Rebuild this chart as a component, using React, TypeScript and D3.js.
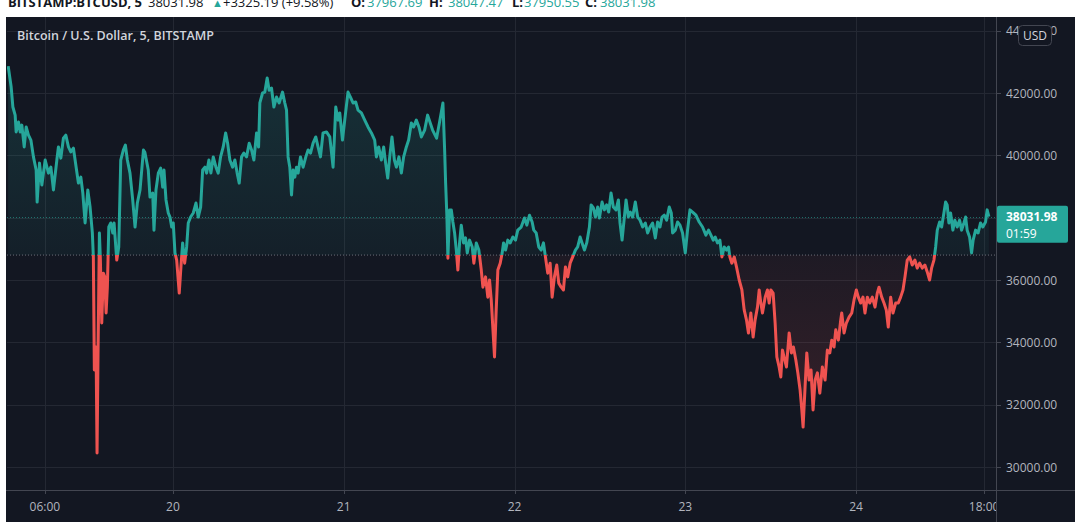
import React from 'react';
import * as d3 from 'd3';

// ---- data (hours since 2021-05-19 00:00, close price) ----
const priceSeries: [number, number][] = [
  [0.84,42860],[1.26,42190],[1.50,41550],[1.82,41290],[1.96,40750],[2.29,41070],[2.53,40750],[2.76,40970],[3.09,40270],[3.37,40910],[3.69,40650],[4.03,40490],[4.39,39950],[4.77,39530],[4.91,38500],[5.24,39750],[5.57,39050],[6.04,39850],[6.50,39430],[6.84,39620],[7.20,38890],[7.68,39850],[7.90,40270],[8.24,39910],[8.60,40550],[8.94,40650],[9.31,40270],[9.64,40110],[10.01,40230],[10.39,39620],[10.71,39110],[11.05,39300],[11.33,38790],[11.65,37830],[12.03,38890],[12.35,38340],[12.67,37510],[12.81,36740],[12.95,33110],[13.19,33850],[13.33,30450],[13.47,33660],[13.66,37510],[13.80,36640],[13.99,34620],[14.22,36220],[14.41,36100],[14.60,34940],[14.78,35770],[14.98,37700],[15.26,37830],[15.54,37510],[15.72,37830],[16.10,36640],[16.38,37060],[16.66,39850],[17.02,40170],[17.31,40330],[17.59,39850],[17.96,39430],[18.34,38570],[18.67,37700],[18.99,38470],[19.37,38890],[19.85,40170],[20.05,40100],[20.53,39530],[20.77,38660],[21.15,38790],[21.33,37600],[21.61,38890],[21.94,39430],[22.27,39590],[22.55,38980],[22.74,39530],[23.02,38570],[23.34,38150],[23.58,38020],[23.82,37700],[24.04,37830],[24.28,36870],[24.52,36640],[24.88,35580],[25.12,36420],[25.36,37190],[25.64,36540],[25.92,37060],[26.15,37830],[26.48,38020],[26.85,38150],[27.23,38470],[27.55,38020],[27.89,38340],[28.17,39530],[28.49,39620],[28.73,39430],[29.05,39850],[29.33,39430],[29.66,39950],[30.04,39620],[30.36,39430],[30.69,39950],[31.06,40270],[31.40,40720],[31.68,40390],[32.00,39850],[32.38,39620],[32.70,39850],[33.02,39430],[33.31,39110],[33.64,39950],[33.96,40070],[34.34,39950],[34.71,40390],[35.05,40170],[35.37,39850],[35.75,40720],[36.03,40270],[36.21,41680],[36.59,42000],[36.91,42030],[37.24,42480],[37.52,42090],[37.85,42160],[38.18,41550],[38.55,41870],[38.92,41680],[39.40,42030],[39.72,41680],[39.96,41450],[40.18,39950],[40.42,39620],[40.66,38730],[40.88,39530],[41.12,39300],[41.36,39620],[41.59,39430],[41.92,39950],[42.29,39620],[42.67,39950],[42.99,40170],[43.33,40070],[43.69,40390],[44.07,40590],[44.39,40270],[44.73,39950],[45.09,40720],[45.57,40750],[46.04,40590],[46.50,39620],[46.88,41550],[47.20,41130],[47.44,41360],[47.82,40490],[48.14,41130],[48.60,42030],[48.94,41870],[49.31,41680],[49.68,41710],[50.01,41450],[50.48,41360],[50.95,41130],[51.41,40910],[51.89,40720],[52.35,40490],[52.59,39950],[52.91,40270],[53.29,39850],[53.61,40270],[53.89,39750],[54.18,39270],[54.46,39950],[54.78,40590],[55.12,39850],[55.40,39620],[55.76,39950],[56.10,39430],[56.42,39950],[56.80,40270],[57.12,40490],[57.50,41040],[57.82,40910],[58.20,41130],[58.57,40910],[58.91,40590],[59.37,40810],[59.79,41290],[60.49,40810],[61.05,40550],[61.47,41070],[61.94,41680],[62.18,40170],[62.32,39110],[62.50,38020],[62.64,36700],[62.88,38250],[63.12,38250],[63.34,37860],[63.58,37510],[63.82,36960],[64.04,36320],[64.28,37190],[64.52,37760],[64.84,37190],[65.12,37350],[65.36,36870],[65.68,37280],[66.06,37060],[66.29,36540],[66.63,37190],[66.99,36960],[67.33,36320],[67.56,35770],[67.93,36100],[68.25,35450],[68.49,36000],[68.73,35360],[68.95,34490],[69.19,33530],[69.43,35040],[69.66,36320],[69.99,36540],[70.27,36870],[70.46,37190],[70.74,36960],[71.06,37280],[71.40,37190],[71.76,37380],[72.14,37280],[72.46,37600],[72.94,37700],[73.40,37990],[73.73,37760],[74.11,38080],[74.48,37860],[74.71,37600],[75.05,37510],[75.41,37060],[75.75,36960],[76.07,37190],[76.35,36740],[76.67,36220],[77.01,36540],[77.29,35450],[77.61,36100],[77.94,36480],[78.22,35900],[78.56,35770],[78.88,35680],[79.16,36420],[79.48,36100],[79.82,36540],[80.18,36740],[80.56,36960],[80.88,37060],[81.22,37380],[81.50,37190],[81.83,36960],[82.15,37190],[82.53,37700],[82.77,38410],[83.09,38310],[83.37,38020],[83.69,38340],[83.93,37990],[84.31,38500],[84.63,38250],[84.95,38410],[85.24,38180],[85.57,38790],[85.89,38340],[86.27,38250],[86.60,38570],[86.83,37830],[87.12,37280],[87.44,38020],[87.68,38570],[88.00,38020],[88.28,38180],[88.60,38020],[88.98,38500],[89.31,38020],[89.64,37920],[90.01,37700],[90.39,37830],[90.71,37510],[91.05,37700],[91.41,37830],[91.79,37350],[92.11,37860],[92.45,37700],[92.73,38020],[93.05,38080],[93.38,37920],[93.75,38340],[94.04,38150],[94.22,37510],[94.60,37600],[94.92,37860],[95.26,37760],[95.62,37510],[96.00,36870],[96.32,37600],[96.66,38250],[97.03,38180],[97.50,38080],[97.96,37860],[98.43,37700],[98.90,37440],[99.27,37600],[99.61,37440],[99.93,37280],[100.21,37380],[100.53,37190],[100.87,37280],[101.15,36740],[101.47,37060],[101.80,36960],[102.08,37060],[102.27,36740],[102.55,36540],[102.88,36740],[103.20,36420],[103.58,36000],[103.96,35680],[104.28,35040],[104.60,34720],[104.88,34300],[105.22,34940],[105.54,34170],[105.82,34720],[106.15,35130],[106.39,35680],[106.62,35260],[106.85,34940],[107.23,35450],[107.55,35680],[107.79,35260],[108.03,35680],[108.35,35580],[108.63,34620],[108.87,33530],[109.19,33210],[109.43,32890],[109.66,33750],[109.89,33530],[110.22,33210],[110.60,34300],[110.92,33660],[111.20,33850],[111.54,33430],[111.82,33020],[112.14,32470],[112.38,31830],[112.56,31280],[112.84,32570],[113.08,33660],[113.40,32790],[113.68,33110],[113.96,31830],[114.25,32790],[114.57,33020],[114.91,32370],[115.27,33210],[115.65,32790],[115.97,33750],[116.31,33660],[116.59,34070],[116.91,33850],[117.15,34400],[117.52,34070],[117.85,34720],[117.99,34940],[118.32,34300],[118.64,34620],[119.02,34810],[119.40,34940],[119.72,35360],[120.04,35680],[120.32,35450],[120.66,35260],[120.98,35450],[121.26,34940],[121.59,35450],[121.92,35260],[122.29,35450],[122.67,35130],[122.99,35580],[123.23,35770],[123.61,35450],[123.93,35260],[124.25,35040],[124.53,34490],[124.87,35450],[125.19,34940],[125.57,35260],[125.94,35260],[126.27,35450],[126.60,35680],[126.88,36100],[127.20,36640],[127.54,36740],[127.90,36480],[128.28,36640],[128.60,36380],[128.94,36540],[129.31,36380],[129.68,36480],[130.01,36260],[130.34,36000],[130.62,36380],[130.95,36640],[131.19,37060],[131.42,37600],[131.75,37860],[132.03,37700],[132.35,38150],[132.59,38500],[132.81,38410],[133.05,37830],[133.29,38150],[133.61,37600],[133.89,37920],[134.22,37700],[134.55,37920],[134.84,37600],[135.16,37830],[135.40,38020],[135.62,37600],[135.96,37380],[136.24,36870],[136.46,37280],[136.80,37600],[137.16,37510],[137.50,37830],[137.82,37700],[138.20,37860],[138.43,38250],[138.67,38031.98]
];

const baselinePrice = 36800;
const lastPrice = 38031.98;
const countdownLabel = '01:59';
const priceTicks = [30000, 32000, 34000, 36000, 38000, 40000, 42000, 44000];
const timeTickHours = [6, 24, 48, 72, 96, 120, 138];
const timeTickLabels = ['06:00', '20', '21', '22', '23', '24', '18:00'];
const chartTitle = 'Bitcoin / U.S. Dollar, 5, BITSTAMP';
const currencyLabel = 'USD';
const headerSymbol = 'BITSTAMP:BTCUSD, 5';
const headerPrice = '38031.98';
const headerChange = '+3325.19 (+9.58%)';
const ohlcKeys = ['O:', 'H:', 'L:', 'C:'];
const ohlcValues = ['37967.69', '38047.47', '37950.55', '38031.98'];

const startDate = new Date(2021, 4, 19, 0, 0, 0);

const UP = '#26a69a';
const DOWN = '#ef5350';
const BG = '#131722';
const GRID = '#242833';
const AXIS_TEXT = '#b2b5be';
const FONT = '"Open Sans", "Noto Sans", sans-serif';

export default function App() {
  const toDate = (h: number) => new Date(startDate.getTime() + h * 3600000);
  const plot = { left: 7, right: 996, top: 17, bottom: 490 };
  const panel = { left: 6, right: 1075, top: 17, bottom: 522 };

  const x = d3.scaleTime().domain([toDate(6), toDate(138)]).range([44.9, 984.1]);
  const y = d3.scaleLinear().domain([30000, 42000]).range([467, 93]);
  const yBase = y(baselinePrice);
  const yLast = y(lastPrice);

  const line = d3.line<[number, number]>()
    .x(d => x(toDate(d[0])))
    .y(d => y(d[1]));
  const area = d3.area<[number, number]>()
    .x(d => x(toDate(d[0])))
    .y0(yBase)
    .y1(d => y(d[1]));
  const linePath = line(priceSeries) || '';
  const areaPath = area(priceSeries) || '';

  const ohlcX = [[351, 367], [429, 448], [512, 524], [585, 600]];

  return (
    <svg width={1080} height={531} style={{ position: 'absolute', left: 0, top: 0, background: '#ffffff' }}
      fontFamily={FONT}>
      <defs>
        <clipPath id="plotClip">
          <rect x={plot.left} y={plot.top} width={plot.right - plot.left} height={plot.bottom - plot.top} />
        </clipPath>
        <clipPath id="aboveClip">
          <rect x={plot.left} y={plot.top} width={plot.right - plot.left} height={yBase - plot.top} />
        </clipPath>
        <clipPath id="belowClip">
          <rect x={plot.left} y={yBase} width={plot.right - plot.left} height={plot.bottom - yBase} />
        </clipPath>
        <clipPath id="timeAxisClip">
          <rect x={panel.left} y={plot.bottom} width={plot.right - panel.left} height={panel.bottom - plot.bottom} />
        </clipPath>
        <linearGradient id="gUp" gradientUnits="userSpaceOnUse" x1={0} y1={plot.top} x2={0} y2={yBase}>
          <stop offset="0%" stopColor={UP} stopOpacity={0.22} />
          <stop offset="100%" stopColor={UP} stopOpacity={0.06} />
        </linearGradient>
        <linearGradient id="gDown" gradientUnits="userSpaceOnUse" x1={0} y1={yBase} x2={0} y2={plot.bottom}>
          <stop offset="0%" stopColor={DOWN} stopOpacity={0.05} />
          <stop offset="100%" stopColor={DOWN} stopOpacity={0.2} />
        </linearGradient>
      </defs>

      {/* header */}
      <g fontSize={13} dominantBaseline="alphabetic">
        <text x={8} y={7} fontWeight={700} fill="#131722">{headerSymbol}</text>
        <text x={148} y={7} fill="#131722">{headerPrice}</text>
        <text x={212} y={7} fill={UP} fontSize={11}>▲</text>
        <text x={223} y={7} fill="#131722">{headerChange}</text>
        {ohlcKeys.map((k, i) => (
          <g key={k}>
            <text x={ohlcX[i][0]} y={7} fontWeight={700} fill="#131722">{k}</text>
            <text x={ohlcX[i][1]} y={7} fill={UP}>{ohlcValues[i]}</text>
          </g>
        ))}
      </g>

      {/* panel */}
      <rect x={panel.left} y={panel.top} width={panel.right - panel.left} height={panel.bottom - panel.top} fill={BG} />

      {/* grid */}
      <g stroke={GRID} strokeWidth={1}>
        {priceTicks.map(p => (
          <line key={p} x1={plot.left} x2={plot.right} y1={Math.round(y(p)) + 0.5} y2={Math.round(y(p)) + 0.5} />
        ))}
        {timeTickHours.map(h => (
          <line key={h} x1={Math.round(x(toDate(h))) + 0.5} x2={Math.round(x(toDate(h))) + 0.5} y1={plot.top} y2={plot.bottom} />
        ))}
      </g>

      {/* baseline area + line */}
      <g clipPath="url(#plotClip)">
        <g clipPath="url(#aboveClip)">
          <path d={areaPath} fill="url(#gUp)" />
        </g>
        <g clipPath="url(#belowClip)">
          <path d={areaPath} fill="url(#gDown)" />
        </g>
        <line x1={plot.left} x2={plot.right} y1={yBase} y2={yBase} stroke="#6a6d78" strokeWidth={1} strokeDasharray="1 2" />
        <line x1={plot.left} x2={plot.right} y1={Math.round(yLast) + 0.5} y2={Math.round(yLast) + 0.5} stroke={UP} strokeOpacity={0.6} strokeWidth={1} strokeDasharray="1 2" />
        <g clipPath="url(#aboveClip)">
          <path d={linePath} fill="none" stroke={UP} strokeWidth={3} strokeLinejoin="round" />
        </g>
        <g clipPath="url(#belowClip)">
          <path d={linePath} fill="none" stroke={DOWN} strokeWidth={3} strokeLinejoin="round" />
        </g>
      </g>

      {/* axis borders */}
      <line x1={plot.right + 0.5} x2={plot.right + 0.5} y1={panel.top} y2={panel.bottom} stroke="#434651" />
      <line x1={panel.left} x2={panel.right} y1={plot.bottom + 0.5} y2={plot.bottom + 0.5} stroke="#434651" />

      {/* title */}
      <text x={17} y={40} fontSize={12.5} fontWeight={600} fill="#d1d4dc">{chartTitle}</text>

      {/* price axis */}
      <g fontSize={12} fill={AXIS_TEXT}>
        {priceTicks.map(p => (
          <g key={p}>
            <line x1={plot.right} x2={plot.right + 5} y1={Math.round(y(p)) + 0.5} y2={Math.round(y(p)) + 0.5} stroke="#434651" />
            <text x={1006} y={y(p)} dominantBaseline="central">{d3.format('.2f')(p)}</text>
          </g>
        ))}
      </g>

      {/* time axis */}
      <g fontSize={12} fill={AXIS_TEXT} clipPath="url(#timeAxisClip)">
        {timeTickHours.map((h, i) => (
          <g key={h}>
            <line x1={Math.round(x(toDate(h))) + 0.5} x2={Math.round(x(toDate(h))) + 0.5} y1={plot.bottom} y2={plot.bottom + 4} stroke="#434651" />
            <text x={x(toDate(h))} y={506} textAnchor="middle" dominantBaseline="central">{timeTickLabels[i]}</text>
          </g>
        ))}
      </g>

      {/* USD button */}
      <rect x={1018.5} y={25.5} width={33} height={20} rx={4} fill={BG} stroke="#434651" />
      <text x={1035} y={35.5} fontSize={12} fill="#d1d4dc" textAnchor="middle" dominantBaseline="central">{currencyLabel}</text>

      {/* last price tag */}
      <rect x={997} y={yLast - 11} width={71} height={37} rx={2} fill={UP} />
      <text x={1006} y={yLast} fontSize={12} fontWeight={700} fill="#ffffff" dominantBaseline="central">{d3.format('.2f')(lastPrice)}</text>
      <text x={1006} y={yLast + 17} fontSize={12} fill="#ffffff" dominantBaseline="central">{countdownLabel}</text>
    </svg>
  );
}
